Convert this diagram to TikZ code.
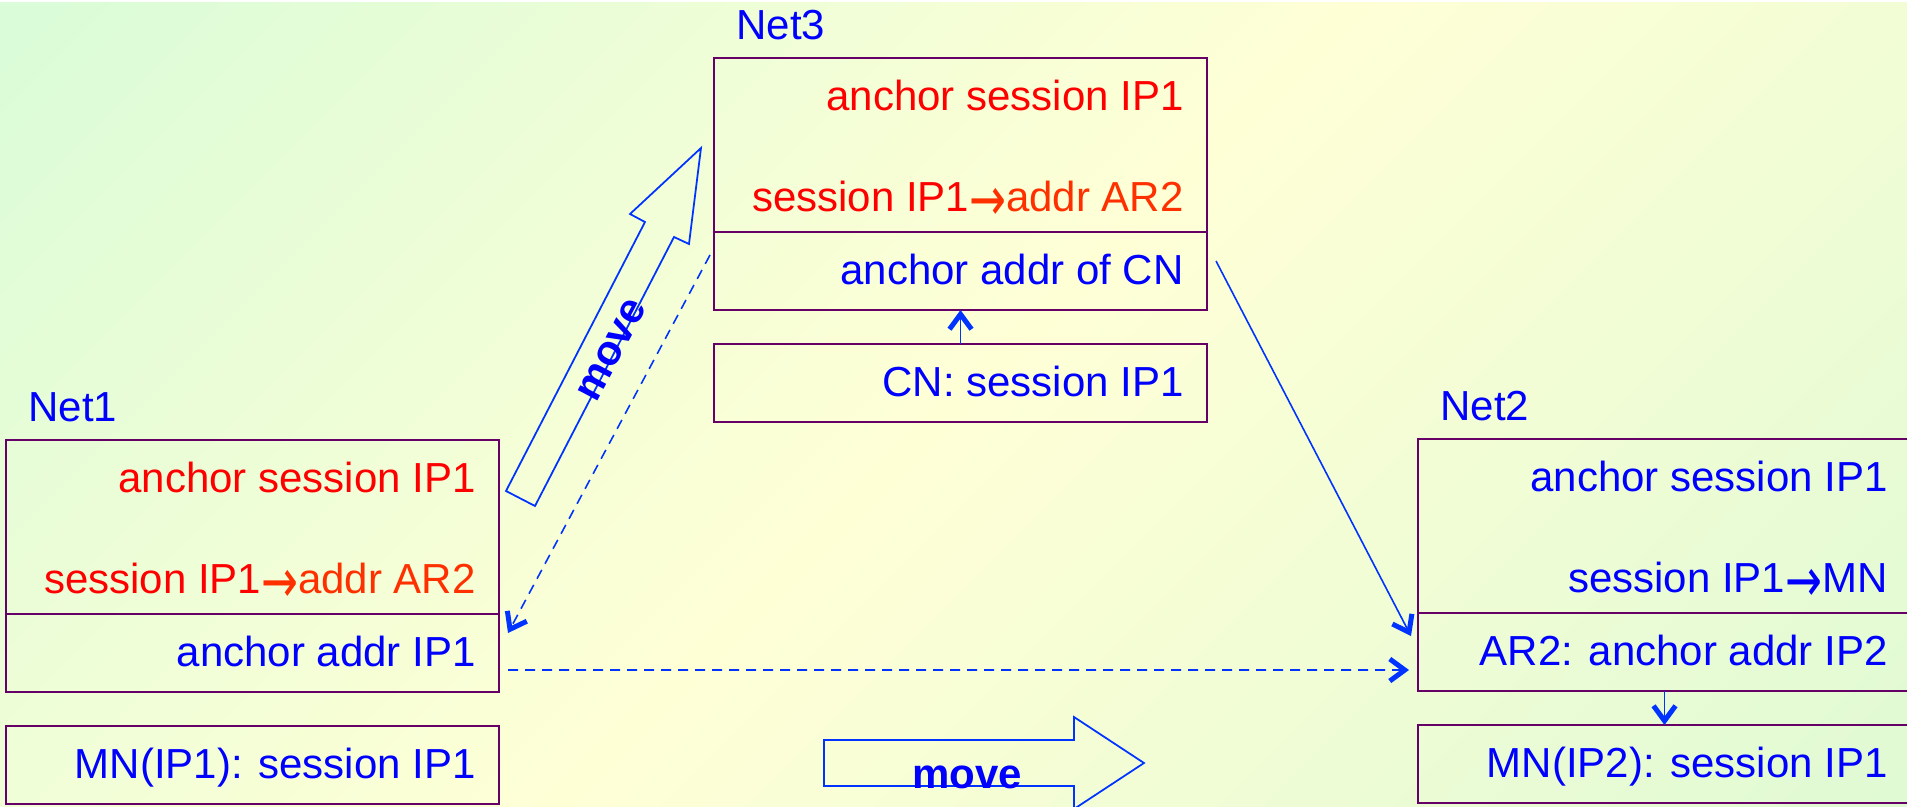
\documentclass[tikz,border=0pt]{standalone}
\usepackage{fontspec}
\usepackage{graphicx}
\setmainfont{Liberation Sans}
\newfontfamily\arrowfont{DejaVu Sans}
\usetikzlibrary{positioning,arrows.meta}
\definecolor{netpurple}{RGB}{102,0,102}
\definecolor{sessred}{RGB}{255,0,0}
\definecolor{addrorange}{RGB}{255,48,0}
\definecolor{textblue}{RGB}{0,0,255}
\definecolor{linkblue}{RGB}{0,51,255}
\definecolor{bggreen}{RGB}{218,252,216}
\definecolor{bgyellow}{RGB}{255,255,214}
\definecolor{bggreentwo}{RGB}{224,250,212}
\pgfdeclarehorizontalshading{slidebg}{100bp}{color(0bp)=(bggreen); color(15bp)=(bggreen); color(50bp)=(bgyellow); color(85bp)=(bggreentwo); color(100bp)=(bggreentwo)}
\newcommand\slidefont{\fontsize{23.9}{28}\selectfont}
\newcommand\toarrow{\raisebox{-0.45ex}{\scalebox{1.05}[1.45]{\arrowfont →}}}
\tikzset{
  sect/.style     = {draw=netpurple, line width=1.5pt, minimum width=98.6mm,
                     inner sep=0pt, outer sep=0pt},
  topsect/.style  = {sect, minimum height=34.8mm},
  addrsect/.style = {sect, minimum height=15.6mm},
  entry/.style    = {anchor=base east, inner sep=0pt, font=\slidefont},
  netname/.style  = {anchor=base west, inner sep=0pt, font=\slidefont, text=textblue},
  link/.style     = {draw=linkblue, line width=0.9pt,
                     -{Straight Barb[length=3mm,width=4.4mm,line width=1mm]}},
  dashlink/.style = {link, dash pattern=on 2mm off 1.4mm},
  movearrow/.style = {draw=linkblue, line width=1pt, line join=miter},
  movetext/.style = {font=\slidefont\bfseries, text=textblue, inner sep=0pt}
}

\begin{document}
\begin{tikzpicture}[x=0.2mm, y=-0.2mm]
  \useasboundingbox (0,0) rectangle (1907,806);
  \shade[shading=slidebg, shading angle=-45] (0,2) rectangle (1907,806);

  % Net1
  \node[topsect, anchor=north west] (n1top) at (6,440) {};
  \node[addrsect, below=0pt of n1top] (n1addr) {};
  \node[addrsect, below=6.8mm of n1addr] (mn1) {};
  \node[netname] (net1) at ([shift={(4.4mm,3.8mm)}]n1top.north west) {Net1};
  \node[entry, text=sessred] (n1sess) at ([shift={(-4.6mm,-10.4mm)}]n1top.north east) {anchor session IP1};
  \node[entry, text=sessred] (n1map) at ([shift={(-4.6mm,-30.6mm)}]n1top.north east) {session IP1\textcolor{addrorange}{\toarrow addr AR2}};
  \node[entry, text=textblue] (n1anc) at ([shift={(-4.6mm,-10.4mm)}]n1addr.north east) {anchor addr IP1};
  \node[entry, text=textblue] (mn1txt) at ([shift={(-4.6mm,-10.4mm)}]mn1.north east) {MN(IP1): session IP1};

  % Net3
  \node[topsect, anchor=north west] (n3top) at (714,58) {};
  \node[addrsect, below=0pt of n3top] (n3addr) {};
  \node[addrsect, below=6.8mm of n3addr] (cn) {};
  \node[netname] (net3) at ([shift={(4.4mm,3.8mm)}]n3top.north west) {Net3};
  \node[entry, text=sessred] (n3sess) at ([shift={(-4.6mm,-10.4mm)}]n3top.north east) {anchor session IP1};
  \node[entry, text=sessred] (n3map) at ([shift={(-4.6mm,-30.6mm)}]n3top.north east) {session IP1\textcolor{addrorange}{\toarrow addr AR2}};
  \node[entry, text=textblue] (n3anc) at ([shift={(-4.6mm,-10.4mm)}]n3addr.north east) {anchor addr of CN};
  \node[entry, text=textblue] (cntxt) at ([shift={(-4.6mm,-10.4mm)}]cn.north east) {CN: session IP1};

  % Net2
  \node[topsect, anchor=north west] (n2top) at (1418,439) {};
  \node[addrsect, below=0pt of n2top] (n2addr) {};
  \node[addrsect, below=6.8mm of n2addr] (mn2) {};
  \node[netname] (net2) at ([shift={(4.4mm,3.8mm)}]n2top.north west) {Net2};
  \node[entry, text=textblue] (n2sess) at ([shift={(-4.6mm,-10.4mm)}]n2top.north east) {anchor session IP1};
  \node[entry, text=textblue] (n2map) at ([shift={(-4.6mm,-30.6mm)}]n2top.north east) {session IP1\toarrow MN};
  \node[entry, text=textblue] (n2anc) at ([shift={(-4.6mm,-10.4mm)}]n2addr.north east) {AR2: anchor addr IP2};
  \node[entry, text=textblue] (mn2txt) at ([shift={(-4.6mm,-10.4mm)}]mn2.north east) {MN(IP2): session IP1};

  % connectors
  \draw[link] (cn.north) -- (n3addr.south);
  \draw[link] (n2addr.south) -- (mn2.north);
  \draw[dashlink] ([shift={(-0.8mm,3.2mm)}]n3addr.west) -- ([shift={(1.8mm,4mm)}]n1addr.east);
  \draw[dashlink] ([shift={(1.8mm,-3.4mm)}]n1addr.east) -- ([shift={(-1.8mm,-3.6mm)}]n2addr.west);
  \draw[link] ([shift={(1.8mm,2mm)}]n3addr.east) -- ([shift={(-1.4mm,3.2mm)}]n2addr.west);

  % move arrows
  \draw[movearrow] (506,491) -- (535,506) -- (674,237) -- (689,244) -- (701,148)
    -- (630,214) -- (645,222) -- cycle;
  \node[movetext, rotate=62] (moveup) at (612,350) {move};
  \draw[movearrow] (824,740) -- (1074,740) -- (1074,717) -- (1144,763) -- (1074,809)
    -- (1074,786) -- (824,786) -- cycle;
  \node[movetext, anchor=base] (moveright) at (967,788) {move};
\end{tikzpicture}
\end{document}
